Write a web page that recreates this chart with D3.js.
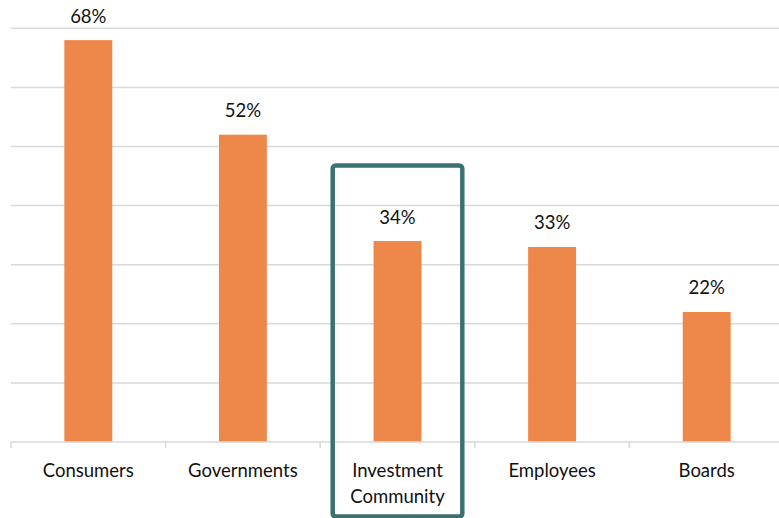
<!DOCTYPE html>
<html>
<head>
<meta charset="utf-8">
<script src="https://cdn.jsdelivr.net/npm/d3@7"></script>
<style>
  body { margin: 0; background: #fff; }
  svg { display: block; font-family: Lato, "Open Sans", sans-serif; }
</style>
</head>
<body>
<svg width="779" height="518"></svg>
<script>
var categories = ["Consumers", "Governments", "Investment Community", "Employees", "Boards"];
var values = [68, 52, 34, 33, 22];
var gridTicks = [0, 10, 20, 30, 40, 50, 60, 70];
var highlighted = "Investment Community";

var svg = d3.select("svg");
var width = +svg.attr("width");
var height = +svg.attr("height");

var left = 11, baseline = 442, step = 154.6;

var x = d3.scaleBand()
    .domain(categories)
    .range([left, left + step * categories.length])
    .padding(0);

var y = d3.scaleLinear()
    .domain([0, 70])
    .range([baseline, 28.3]);

var barWidth = x.bandwidth() * 0.31;

// gridlines
svg.append("g")
    .selectAll("line")
    .data(gridTicks.slice(1))
    .enter()
    .append("line")
    .attr("x1", left)
    .attr("x2", width)
    .attr("y1", function(d) { return y(d); })
    .attr("y2", function(d) { return y(d); })
    .attr("stroke", "#d9d9d9")
    .attr("stroke-width", 1.5);

// bars
svg.append("g")
    .selectAll("rect")
    .data(categories)
    .enter()
    .append("rect")
    .attr("x", function(d) { return x(d) + (x.bandwidth() - barWidth) / 2; })
    .attr("y", function(d, i) { return y(values[i]); })
    .attr("width", barWidth)
    .attr("height", function(d, i) { return baseline - y(values[i]); })
    .attr("fill", "#ed884a");

// baseline + category boundary ticks
svg.append("line")
    .attr("x1", left)
    .attr("x2", width)
    .attr("y1", y(0))
    .attr("y2", y(0))
    .attr("stroke", "#d9d9d9")
    .attr("stroke-width", 1.5);

svg.append("g")
    .selectAll("line")
    .data(categories)
    .enter()
    .append("line")
    .attr("x1", function(d) { return x(d); })
    .attr("x2", function(d) { return x(d); })
    .attr("y1", y(0))
    .attr("y2", y(0) + 6)
    .attr("stroke", "#d9d9d9")
    .attr("stroke-width", 1.5);

// value labels
svg.append("g")
    .selectAll("text")
    .data(categories)
    .enter()
    .append("text")
    .attr("x", function(d) { return x(d) + x.bandwidth() / 2; })
    .attr("y", function(d, i) { return y(values[i]) - 17.5; })
    .attr("text-anchor", "middle")
    .attr("font-size", 18.5)
    .attr("fill", "#111")
    .text(function(d, i) { return values[i] + "%"; });

// category labels (two lines for the long one)
var catLabels = svg.append("g")
    .selectAll("text")
    .data(categories)
    .enter()
    .append("text")
    .attr("text-anchor", "middle")
    .attr("font-size", 18.5)
    .attr("fill", "#111");

catLabels.each(function(d) {
    var words = d === highlighted ? d.split(" ") : [d];
    var t = d3.select(this);
    words.forEach(function(w, k) {
        t.append("tspan")
            .attr("x", x(d) + x.bandwidth() / 2)
            .attr("y", 477 + k * 26)
            .text(w);
    });
});

// highlight box round the investment community column
var inset = 12.5;
svg.append("rect")
    .attr("x", x(highlighted) + inset)
    .attr("y", 165.5)
    .attr("width", x.bandwidth() - inset * 2)
    .attr("height", 351)
    .attr("rx", 3)
    .attr("fill", "none")
    .attr("stroke", "#3a7272")
    .attr("stroke-width", 4.5);
</script>
</body>
</html>
